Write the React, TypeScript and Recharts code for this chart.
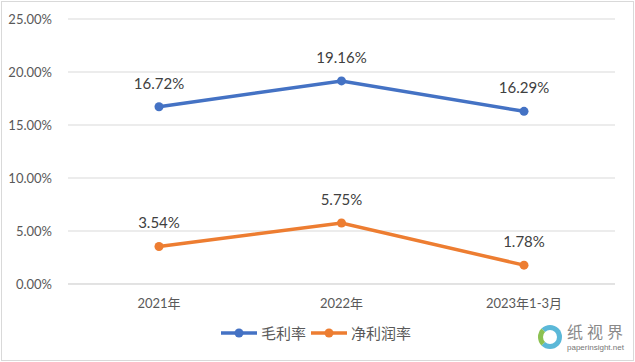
import { LineChart, Line, XAxis, YAxis, CartesianGrid, Legend, LabelList } from "recharts";

const categories = ["2021年", "2022年", "2023年1-3月"];
const grossMargin = [16.72, 19.16, 16.29];
const netMargin = [3.54, 5.75, 1.78];
const yTicks = [0, 5, 10, 15, 20, 25];

const data = categories.map((name, i) => ({
  name,
  gross: grossMargin[i],
  net: netMargin[i],
}));

const FONT = "Lato, 'Noto Sans CJK SC', sans-serif";
const BLUE = "#4472C4";
const ORANGE = "#ED7D31";

const legendItems = [
  { label: "毛利率", color: BLUE },
  { label: "净利润率", color: ORANGE },
];

function LegendContent() {
  return (
    <div style={{ display: "flex", justifyContent: "center", alignItems: "center", fontFamily: FONT, fontSize: 15, color: "#595959" }}>
      {legendItems.map((it) => (
        <div key={it.label} style={{ display: "flex", alignItems: "center", marginRight: 4 }}>
          <svg width={38} height={12} style={{ marginRight: 3 }}>
            <line x1={1} y1={6} x2={37} y2={6} stroke={it.color} strokeWidth={3.5} />
            <circle cx={19} cy={6} r={4.5} fill={it.color} />
          </svg>
          <span>{it.label}</span>
        </div>
      ))}
    </div>
  );
}

export default function App() {
  return (
    <div style={{ position: "absolute", left: 0, top: 0, width: 635, height: 362, background: "#fff" }}>
      <div style={{ position: "absolute", left: 1, top: 1, width: 631, height: 358, border: "1px solid #d9d9d9" }} />
      <LineChart width={635} height={362} data={data} margin={{ top: 19, right: 20, bottom: 18, left: 0 }}>
        <CartesianGrid vertical={false} stroke="#d9d9d9" />
        <XAxis
          dataKey="name"
          axisLine={{ stroke: "#d9d9d9" }}
          tickLine={false}
          height={30}
          tickMargin={9}
          padding={{ left: 91, right: 91 }}
          tick={{ fill: "#595959", fontSize: 13, fontFamily: FONT }}
        />
        <YAxis
          domain={[0, 25]}
          ticks={yTicks}
          width={68}
          axisLine={false}
          tickLine={false}
          tickMargin={10}
          tickFormatter={(v: number) => v.toFixed(2) + "%"}
          tick={{ fill: "#595959", fontSize: 13, fontFamily: FONT }}
        />
        <Legend verticalAlign="bottom" height={30} content={<LegendContent />} wrapperStyle={{ bottom: 10, left: 0, width: 635 }} />
        <Line type="linear" dataKey="gross" stroke={BLUE} strokeWidth={3.5} dot={{ r: 4.5, fill: BLUE, stroke: BLUE, strokeWidth: 0 }} isAnimationActive={false}>
          <LabelList dataKey="gross" position="top" offset={18} formatter={(v: number) => v.toFixed(2) + "%"} style={{ fill: "#404040", fontSize: 15, fontFamily: FONT }} />
        </Line>
        <Line type="linear" dataKey="net" stroke={ORANGE} strokeWidth={3.5} dot={{ r: 4.5, fill: ORANGE, stroke: ORANGE, strokeWidth: 0 }} isAnimationActive={false}>
          <LabelList dataKey="net" position="top" offset={18} formatter={(v: number) => v.toFixed(2) + "%"} style={{ fill: "#404040", fontSize: 15, fontFamily: FONT }} />
        </Line>
      </LineChart>
      <div style={{ position: "absolute", left: 538, top: 321, display: "flex", alignItems: "center" }}>
        <div style={{ width: 24, height: 24, borderRadius: 12, border: "5px solid #5bb8d8", borderLeftColor: "#8cc152", boxSizing: "border-box" }} />
        <div style={{ marginLeft: 5 }}>
          <div style={{ fontFamily: "'Noto Sans CJK SC'", fontSize: 16, lineHeight: "20px", color: "#8a8a8a", letterSpacing: 4 }}>纸视界</div>
          <div style={{ fontFamily: "'Liberation Sans'", fontSize: 8, lineHeight: "10px", marginTop: 2, color: "#777" }}>paperinsight.net</div>
        </div>
      </div>
    </div>
  );
}
